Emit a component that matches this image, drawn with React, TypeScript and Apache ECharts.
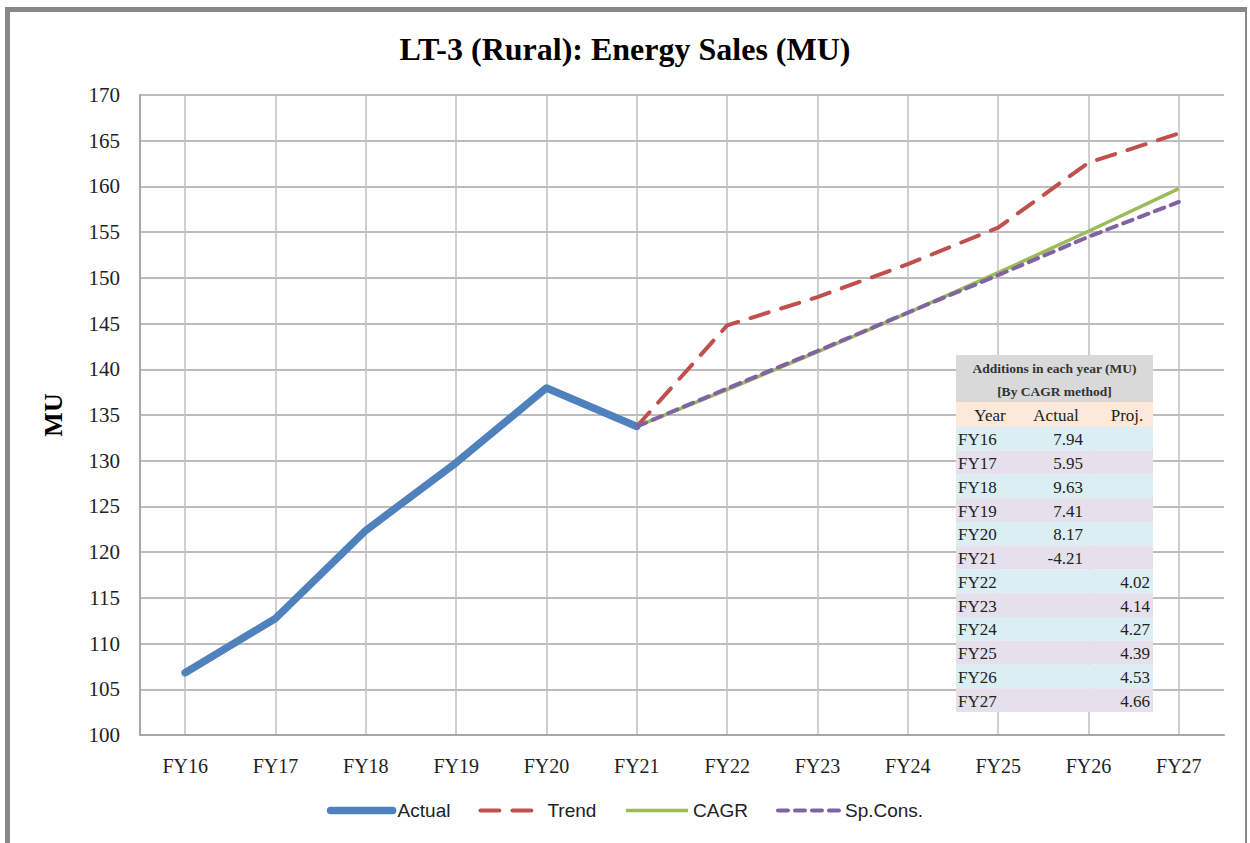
import React, { useEffect, useRef } from "react";
import * as echarts from "echarts";

const categories = ["FY16", "FY17", "FY18", "FY19", "FY20", "FY21", "FY22", "FY23", "FY24", "FY25", "FY26", "FY27"];
const actualValues = [106.8, 112.75, 122.38, 129.79, 137.96, 133.75, null, null, null, null, null, null];
const trendValues = [null, null, null, null, null, 133.75, 144.8, 147.9, 151.5, 155.5, 162.6, 165.8];
const cagrValues = [null, null, null, null, null, 133.75, 137.77, 141.91, 146.18, 150.57, 155.1, 159.76];
const spConsValues = [null, null, null, null, null, 133.75, 137.9, 142.0, 146.2, 150.3, 154.5, 158.3];

const tableTitle1 = "Additions in each year (MU)";
const tableTitle2 = "[By CAGR method]";
const tableHeaders = ["Year", "Actual", "Proj."];
const tableYears = ["FY16", "FY17", "FY18", "FY19", "FY20", "FY21", "FY22", "FY23", "FY24", "FY25", "FY26", "FY27"];
const tableActual = ["7.94", "5.95", "9.63", "7.41", "8.17", "-4.21", "", "", "", "", "", ""];
const tableProj = ["", "", "", "", "", "", "4.02", "4.14", "4.27", "4.39", "4.53", "4.66"];

export default function App() {
  const ref = useRef<HTMLDivElement>(null);
  useEffect(() => {
    if (!ref.current) return;
    const chart = echarts.init(ref.current, null, { renderer: "svg" });
    const serif = "'Liberation Serif', 'DejaVu Serif', serif";
    const tx = 956, tw = 197, rowH = 23.75, tblTop = 355, hdrTop = 402, rowsTop = 427;
    const tableEls: any[] = [];
    tableEls.push({ type: "rect", shape: { x: tx, y: tblTop, width: tw, height: hdrTop - tblTop }, style: { fill: "#d9d9d9" }, z: 100 });
    tableEls.push({ type: "text", x: tx + tw / 2, y: 368, style: { text: tableTitle1, fill: "#333", font: `bold 13.5px ${serif}`, align: "center", verticalAlign: "middle" }, z: 101 });
    tableEls.push({ type: "text", x: tx + tw / 2, y: 391, style: { text: tableTitle2, fill: "#333", font: `bold 13.5px ${serif}`, align: "center", verticalAlign: "middle" }, z: 101 });
    tableEls.push({ type: "rect", shape: { x: tx, y: hdrTop, width: tw, height: rowsTop - hdrTop }, style: { fill: "#fde9d9" }, z: 100 });
    const hdrX = [990, 1056, 1127];
    tableHeaders.forEach((h, i) => {
      tableEls.push({ type: "text", x: hdrX[i], y: 415, style: { text: h, fill: "#222", font: `17px ${serif}`, align: "center", verticalAlign: "middle" }, z: 101 });
    });
    tableYears.forEach((yr, i) => {
      const top = rowsTop + i * rowH;
      tableEls.push({ type: "rect", shape: { x: tx, y: top, width: tw, height: rowH }, style: { fill: i % 2 === 0 ? "#daeef3" : "#e5e0ec" }, z: 100 });
      const cy = top + rowH / 2 + 1;
      tableEls.push({ type: "text", x: 958, y: cy, style: { text: yr, fill: "#222", font: `17px ${serif}`, align: "left", verticalAlign: "middle" }, z: 101 });
      if (tableActual[i]) tableEls.push({ type: "text", x: 1083, y: cy, style: { text: tableActual[i], fill: "#222", font: `17px ${serif}`, align: "right", verticalAlign: "middle" }, z: 101 });
      if (tableProj[i]) tableEls.push({ type: "text", x: 1150, y: cy, style: { text: tableProj[i], fill: "#222", font: `17px ${serif}`, align: "right", verticalAlign: "middle" }, z: 101 });
    });

    const option: any = {
      animation: false,
      backgroundColor: "#ffffff",
      title: {
        text: "LT-3 (Rural): Energy Sales (MU)",
        left: "center",
        top: 28,
        textStyle: { fontFamily: serif, fontWeight: "bold", fontSize: 32, color: "#000" },
      },
      grid: { left: 140, right: 26, top: 95, bottom: 108 },
      legend: {
        bottom: 18,
        left: "center",
        itemWidth: 62,
        itemHeight: 14,
        itemGap: 28,
        itemStyle: { opacity: 0 },
        lineStyle: { width: "inherit", type: "inherit" },
        textStyle: { fontFamily: "'Liberation Sans', sans-serif", fontSize: 19, color: "#222" },
        data: ["Actual", "Trend", "CAGR", "Sp.Cons."],
      },
      xAxis: {
        type: "category",
        data: categories,
        boundaryGap: true,
        axisLine: { show: true, lineStyle: { color: "#a6a6a6", width: 2 } },
        axisTick: { show: false },
        axisLabel: { margin: 21, fontFamily: serif, fontSize: 20, color: "#222" },
        splitLine: { show: true, alignWithLabel: true, lineStyle: { color: "#bfbfbf", width: 1.5 } },
      },
      yAxis: {
        type: "value",
        min: 100,
        max: 170,
        interval: 5,
        name: "MU",
        nameLocation: "middle",
        nameGap: 74,
        nameTextStyle: { fontFamily: serif, fontWeight: "bold", fontSize: 26, color: "#000" },
        axisLine: { show: true, lineStyle: { color: "#a6a6a6", width: 2 } },
        axisTick: { show: false },
        axisLabel: { margin: 20, fontFamily: serif, fontSize: 21, color: "#222" },
        splitLine: { show: true, lineStyle: { color: "#a6a6a6", width: 1.5 } },
      },
      series: [
        { name: "Actual", type: "line", data: actualValues, symbol: "none", connectNulls: false, lineStyle: { color: "#4f81bd", width: 7.5, cap: "round", join: "round" }, itemStyle: { color: "#4f81bd" }, z: 4 },
        { name: "Trend", type: "line", data: trendValues, symbol: "none", lineStyle: { color: "#c0504d", width: 4, type: [19, 13], cap: "round" }, itemStyle: { color: "#c0504d" }, z: 3 },
        { name: "CAGR", type: "line", data: cagrValues, symbol: "none", lineStyle: { color: "#9bbb59", width: 3.5 }, itemStyle: { color: "#9bbb59" }, z: 3 },
        { name: "Sp.Cons.", type: "line", data: spConsValues, symbol: "none", lineStyle: { color: "#8064a2", width: 4, type: [10, 7], cap: "round" }, itemStyle: { color: "#8064a2" }, z: 4 },
      ],
      graphic: [
        { type: "rect", shape: { x: 5, y: 7, width: 5, height: 836 }, style: { fill: "#888888" }, z: 200 },
        { type: "rect", shape: { x: 5, y: 7, width: 1242, height: 5 }, style: { fill: "#888888" }, z: 200 },
        { type: "rect", shape: { x: 1245, y: 7, width: 2, height: 836 }, style: { fill: "#888888" }, z: 200 },
        ...tableEls,
      ],
    };
    chart.setOption(option);
    return () => chart.dispose();
  }, []);
  return (
    <div style={{ position: "fixed", left: 0, top: 0, width: 1250, height: 843, background: "#fff" }}>
      <div ref={ref} style={{ width: 1250, height: 843 }} />
    </div>
  );
}
